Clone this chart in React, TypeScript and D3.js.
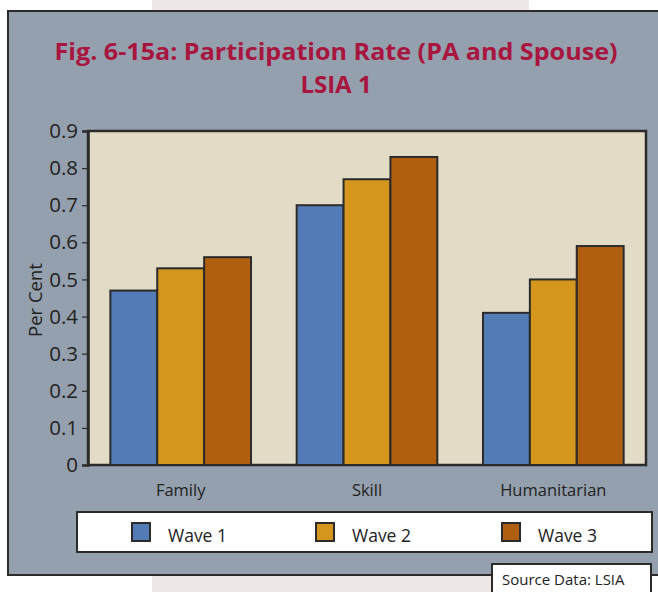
import { useEffect, useRef } from "react";
import * as d3 from "d3";

const categories = ["Family", "Skill", "Humanitarian"];
const seriesNames = ["Wave 1", "Wave 2", "Wave 3"];
const wave1 = [0.47, 0.7, 0.41];
const wave2 = [0.53, 0.77, 0.5];
const wave3 = [0.56, 0.83, 0.59];
const yTicks = [0, 0.1, 0.2, 0.3, 0.4, 0.5, 0.6, 0.7, 0.8, 0.9];

const colors = ["#537bb5", "#d4961c", "#b05e10"];
const FONT = "'Open Sans', 'Noto Sans', sans-serif";

export default function App() {
  const svgRef = useRef<SVGSVGElement>(null);

  useEffect(() => {
    if (!svgRef.current) return;
    const width = 658;
    const height = 592;
    const svg = d3.select(svgRef.current);
    svg.selectAll("*").remove();

    // page background with pale band
    svg.append("rect").attr("width", width).attr("height", height).attr("fill", "#ffffff");
    svg.append("rect").attr("x", 152).attr("y", 0).attr("width", 377).attr("height", height).attr("fill", "#ede8e5");

    // panel
    svg.append("rect")
      .attr("x", 8).attr("y", 11).attr("width", 670).attr("height", 564)
      .attr("fill", "#94a0ae").attr("stroke", "#2b2b2b").attr("stroke-width", 2);

    // title, two lines
    svg.append("text")
      .attr("x", 336).attr("y", 60)
      .attr("text-anchor", "middle")
      .attr("fill", "#a8153e")
      .attr("font-family", FONT)
      .attr("font-weight", "bold")
      .attr("font-size", 24)
      .attr("textLength", 563).attr("lengthAdjust", "spacingAndGlyphs")
      .text("Fig. 6-15a: Participation Rate (PA and Spouse)");
    svg.append("text")
      .attr("x", 336).attr("y", 93)
      .attr("text-anchor", "middle")
      .attr("fill", "#a8153e")
      .attr("font-family", FONT)
      .attr("font-weight", "bold")
      .attr("font-size", 24)
      .text("LSIA 1");

    const left = 88;
    const right = 646;
    const x0 = d3.scaleBand<string>()
      .domain(categories)
      .range([left, right])
      .paddingInner(0.245)
      .paddingOuter(0.12);
    const x1 = d3.scaleBand<string>()
      .domain(seriesNames)
      .range([0, x0.bandwidth()]);
    const y = d3.scaleLinear().domain([0, 0.9]).range([465, 131]);

    // plot area
    svg.append("rect")
      .attr("x", left).attr("y", y(0.9))
      .attr("width", right - left).attr("height", y(0) - y(0.9))
      .attr("fill", "#e2dbc6").attr("stroke", "#2b2b2b").attr("stroke-width", 2.5);

    const series = [wave1, wave2, wave3];
    categories.forEach((cat, ci) => {
      seriesNames.forEach((s, si) => {
        const v = series[si][ci];
        svg.append("rect")
          .attr("x", (x0(cat) as number) + (x1(s) as number))
          .attr("y", y(v))
          .attr("width", x1.bandwidth())
          .attr("height", y(0) - y(v))
          .attr("fill", colors[si])
          .attr("stroke", "#2b2b2b")
          .attr("stroke-width", 2);
      });
    });

    // y axis
    const yAxis = svg.append("g")
      .attr("transform", `translate(${left},0)`)
      .call(d3.axisLeft(y).tickValues(yTicks).tickSize(6).tickPadding(4).tickFormat((d) => d3.format("")(+d)));
    yAxis.select(".domain").attr("stroke", "#2b2b2b").attr("stroke-width", 2.5);
    yAxis.selectAll(".tick line").attr("stroke", "#2b2b2b").attr("stroke-width", 1.2);
    yAxis.selectAll(".tick text")
      .attr("fill", "#222")
      .attr("font-family", FONT)
      .attr("font-size", 20.5);

    svg.append("text")
      .attr("transform", "translate(42,300) rotate(-90)")
      .attr("text-anchor", "middle")
      .attr("fill", "#222")
      .attr("font-family", FONT)
      .attr("font-size", 18.5)
      .text("Per Cent");

    // category labels
    categories.forEach((cat) => {
      svg.append("text")
        .attr("x", (x0(cat) as number) + x0.bandwidth() / 2)
        .attr("y", 496)
        .attr("text-anchor", "middle")
        .attr("fill", "#222")
        .attr("font-family", FONT)
        .attr("font-size", 16.5)
        .text(cat);
    });

    // legend
    svg.append("rect")
      .attr("x", 77).attr("y", 512).attr("width", 575).attr("height", 40)
      .attr("fill", "#ffffff").attr("stroke", "#2b2b2b").attr("stroke-width", 2);
    const legendX = [132, 316, 502];
    seriesNames.forEach((s, i) => {
      svg.append("rect")
        .attr("x", legendX[i]).attr("y", 523).attr("width", 18).attr("height", 18)
        .attr("fill", colors[i]).attr("stroke", "#2b2b2b").attr("stroke-width", 2);
      svg.append("text")
        .attr("x", legendX[i] + 36).attr("y", 542)
        .attr("fill", "#222")
        .attr("font-family", FONT)
        .attr("font-size", 17.5)
        .text(s);
    });

    // source box
    svg.append("rect")
      .attr("x", 492).attr("y", 564).attr("width", 159).attr("height", 40)
      .attr("fill", "#ffffff").attr("stroke", "#2b2b2b").attr("stroke-width", 2);
    svg.append("text")
      .attr("x", 502).attr("y", 585)
      .attr("fill", "#222")
      .attr("font-family", FONT)
      .attr("font-size", 15)
      .text("Source Data: LSIA");
  }, []);

  return (
    <svg
      ref={svgRef}
      width={658}
      height={592}
      style={{ position: "absolute", left: 0, top: 0, display: "block" }}
    />
  );
}
